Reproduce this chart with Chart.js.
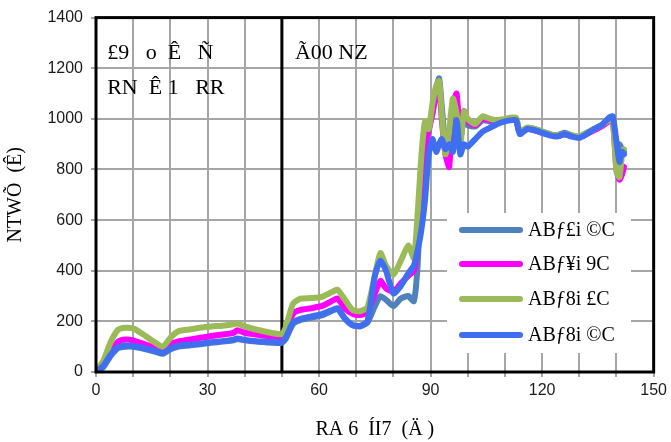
<!DOCTYPE html>
<html>
<head>
<meta charset="utf-8">
<script src="https://cdn.jsdelivr.net/npm/chart.js@4.4.1/dist/chart.umd.min.js"></script>
<style>
  html, body { margin: 0; padding: 0; background: #fff; }
  #wrap { width: 671px; height: 442px; }
</style>
</head>
<body>
<div id="wrap"><canvas id="myChart" width="671" height="442"></canvas></div>
<script>
// x positions shared by all four curves
const xVals = [0, 2, 4, 6, 8, 10, 12, 14, 16, 18, 20, 22, 25, 28, 31, 34, 37, 38, 40, 43, 46, 49, 50, 51, 53, 55, 58, 61, 64, 65, 67, 69, 71, 73, 75, 76.5, 78, 80, 82, 84, 85.5, 86.5, 87.5, 88.5, 89.5, 90.5, 91.5, 92.3, 93, 94, 95, 96, 97, 98, 99, 100, 102, 104, 106, 108, 110, 112, 113, 114, 116, 118, 120, 122, 124, 126, 128, 130, 132, 134, 136, 138, 139, 140, 140.8, 141.5, 142];

const steelBlue = [0, 20, 65, 95, 100, 100, 95, 88, 80, 72, 90, 100, 105, 110, 115, 120, 125, 130, 125, 120, 117, 115, 115, 130, 190, 205, 215, 225, 245, 250, 210, 185, 180, 195, 260, 300, 285, 260, 290, 300, 280, 420, 750, 900, 950, 1030, 1120, 1160, 1050, 900, 940, 1060, 1050, 930, 1000, 975, 970, 995, 990, 990, 995, 1000, 1000, 945, 965, 960, 950, 940, 935, 945, 935, 928, 945, 960, 975, 995, 1000, 880, 900, 880, 870];
const magenta = [0, 30, 80, 120, 128, 125, 115, 105, 95, 88, 110, 120, 128, 135, 142, 148, 155, 165, 155, 148, 142, 138, 135, 160, 230, 245, 252, 262, 285, 290, 250, 230, 225, 235, 310, 360, 330, 318, 350, 380, 400, 500, 700, 880, 960, 1020, 1100, 1140, 1000, 860, 810, 1050, 1100, 920, 1030, 990, 975, 1000, 995, 990, 995, 1000, 1000, 945, 960, 955, 945, 938, 932, 938, 932, 928, 940, 955, 970, 990, 995, 800, 760, 780, 810];
const green = [0, 45, 120, 168, 175, 172, 155, 135, 115, 100, 135, 160, 168, 175, 180, 183, 188, 192, 180, 168, 158, 150, 150, 175, 270, 290, 292, 298, 320, 325, 285, 245, 240, 255, 380, 470, 420, 385, 440, 500, 450, 620, 850, 990, 960, 1060, 1130, 1150, 1020, 860, 950, 1080, 1020, 900, 1030, 1000, 980, 1010, 1000, 995, 1000, 1005, 1005, 950, 965, 960, 950, 940, 935, 940, 935, 930, 945, 960, 975, 995, 1000, 790, 770, 860, 880];
const brightBlue = [0, 25, 70, 98, 105, 103, 97, 90, 82, 75, 92, 103, 108, 112, 118, 122, 128, 132, 127, 122, 120, 118, 118, 135, 195, 210, 220, 230, 248, 252, 210, 185, 182, 200, 380, 440, 400, 310, 340, 390, 420, 480, 560, 680, 860, 920, 870, 900, 920, 880, 900, 870, 995, 860, 900, 890, 920, 950, 965, 980, 990, 995, 995, 940, 960, 955, 945, 935, 930, 940, 930, 925, 940, 960, 975, 1005, 1010, 910, 830, 870, 860];

const seriesNames = ['ABƒ£i ©C', 'ABƒ¥i 9C', 'ABƒ8i £C', 'ABƒ8i ©C'];
const seriesColors = ['#4f81bd', '#ff00ff', '#9bbb59', '#3f6ff0'];
const seriesData = [steelBlue, magenta, green, brightBlue];
const drawOrder = [3, 2, 1, 0];

const xTicks = [0, 30, 60, 90, 120, 150];
const yTicks = [0, 200, 400, 600, 800, 1000, 1200, 1400];
const dividerX = 50;

// texts on the plot, anchored in data units
const notes = [
  { text: '£9   o  Ê   Ñ', x: 3, y: 1236 },
  { text: 'RN  Ê 1   RR', x: 3, y: 1100 },
  { text: 'Ã00 NZ', x: 53.5, y: 1236 }
];
const xTitle = 'RA 6  ÍI7  (Ä )';
const yTitle = 'NTWÕ  (Ê)';

const serif = "'Liberation Serif', 'DejaVu Serif', serif";
const sans = "'Liberation Sans', Arial, sans-serif";
const gridColor = '#a6a6a6';

const datasets = seriesData.map((vals, i) => ({
  label: seriesNames[i],
  data: vals.map((v, j) => ({ x: xVals[j], y: v })),
  borderColor: seriesColors[i],
  backgroundColor: seriesColors[i],
  borderWidth: 6,
  pointRadius: 0,
  tension: 0.2,
  borderCapStyle: 'round',
  borderJoinStyle: 'round',
  order: drawOrder[i],
}));

const overlay = {
  id: 'overlay',
  beforeDatasetsDraw(chart) {
    const { ctx, chartArea: a, scales: { x, y } } = chart;
    ctx.save();
    // divider at x = 50
    const dx = x.getPixelForValue(dividerX);
    ctx.strokeStyle = '#000';
    ctx.lineWidth = 3;
    ctx.beginPath();
    ctx.moveTo(dx, a.top);
    ctx.lineTo(dx, a.bottom);
    ctx.stroke();
    ctx.restore();
  },
  afterDatasetsDraw(chart) {
    const { ctx, chartArea: a, scales: { x, y } } = chart;
    ctx.save();
    // plot frame
    ctx.strokeStyle = '#000';
    ctx.lineWidth = 3;
    ctx.strokeRect(a.left, a.top, a.right - a.left, a.bottom - a.top);

    // notes
    ctx.fillStyle = '#000';
    ctx.font = '22px ' + serif;
    ctx.textBaseline = 'alphabetic';
    ctx.textAlign = 'left';
    notes.forEach(n => {
      ctx.fillText(n.text, x.getPixelForValue(n.x), y.getPixelForValue(n.y));
    });

    // legend box
    const bx = 447, by = 213, bw = 184, bh = 140;
    ctx.fillStyle = '#fff';
    ctx.fillRect(bx, by, bw, bh);
    const rows = [230, 264, 299, 335];
    ctx.font = '20px ' + serif;
    ctx.textBaseline = 'middle';
    seriesNames.forEach((name, i) => {
      ctx.strokeStyle = seriesColors[i];
      ctx.lineWidth = 6;
      ctx.lineCap = 'round';
      ctx.beginPath();
      ctx.moveTo(462, rows[i]);
      ctx.lineTo(520, rows[i]);
      ctx.stroke();
      ctx.fillStyle = '#000';
      ctx.fillText(name, 528, rows[i] + 1);
    });
    ctx.restore();
  }
};

const config = {
  type: 'line',
  data: { datasets: datasets },
  options: {
    responsive: false,
    animation: false,
    devicePixelRatio: 1,
    layout: { padding: { left: 0, right: 17, top: 13, bottom: 0 } },
    plugins: {
      legend: { display: false },
      tooltip: { enabled: false },
    },
    scales: {
      x: {
        type: 'linear',
        min: 0,
        max: 150,
        afterFit: s => { s.height = 70; },
        ticks: {
          stepSize: 10,
          autoSkip: false,
          maxRotation: 0,
          color: '#1a1a1a',
          padding: 4,
          font: { size: 16, family: sans },
          callback: v => xTicks.includes(v) ? String(v) : '',
        },
        grid: { display: true, color: gridColor, lineWidth: 2, tickLength: 5, tickColor: gridColor },
        border: { display: false },
        title: {
          display: true,
          text: xTitle,
          color: '#000',
          font: { size: 20, family: serif },
          padding: { top: 0, bottom: 0 },
        },
      },
      y: {
        type: 'linear',
        min: 0,
        max: 1400,
        afterFit: s => { s.width = 96; },
        ticks: {
          stepSize: 200,
          color: '#1a1a1a',
          padding: 8,
          font: { size: 16, family: sans },
          callback: v => yTicks.includes(v) ? String(v) : '',
        },
        grid: { display: true, color: gridColor, lineWidth: 2, tickLength: 5, tickColor: gridColor },
        border: { display: false },
        title: {
          display: true,
          text: yTitle,
          color: '#000',
          font: { size: 20, family: serif },
          padding: { top: 4, bottom: 0 },
        },
      },
    },
  },
  plugins: [overlay],
};

const myChart = new Chart(document.getElementById('myChart'), config);
</script>
</body>
</html>
